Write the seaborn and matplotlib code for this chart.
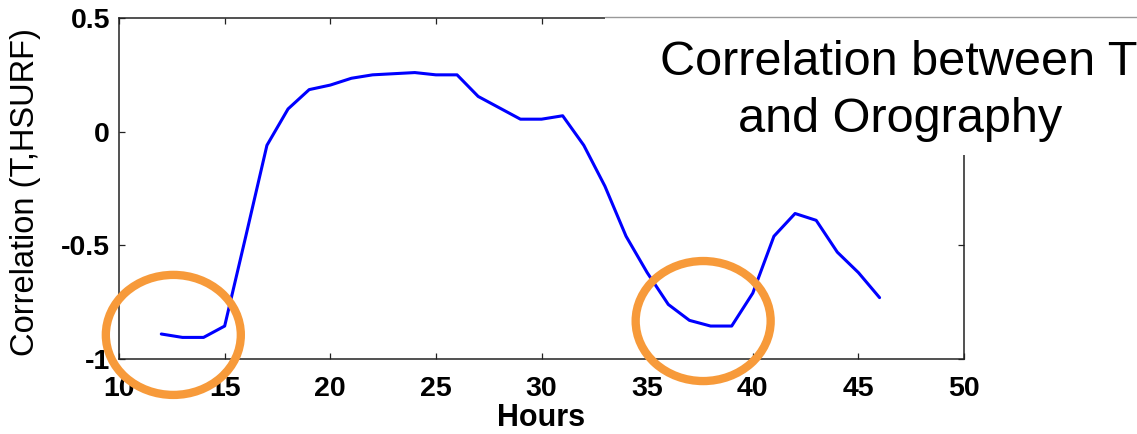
import numpy as np
import pandas as pd
import seaborn as sns
import matplotlib.pyplot as plt
from matplotlib.patches import Ellipse, Rectangle
from matplotlib.lines import Line2D

# values
hours = list(range(12, 47))
corr = [-0.89, -0.905, -0.905, -0.855, -0.46, -0.06, 0.10, 0.185, 0.205, 0.235,
        0.25, 0.255, 0.26, 0.25, 0.25, 0.155, 0.105, 0.055, 0.055, 0.07,
        -0.06, -0.24, -0.46, -0.62, -0.76, -0.83, -0.855, -0.855, -0.71, -0.46,
        -0.36, -0.39, -0.53, -0.62, -0.73]

x_ticks = [10, 15, 20, 25, 30, 35, 40, 45, 50]
y_ticks = [-1, -0.5, 0, 0.5]
y_ticklabels = ["-1", "-0.5", "0", "0.5"]

# highlighted regions (centre hour, centre correlation)
circle_x = [12.57, 37.65]
circle_y = [-0.894, -0.833]

title_lines = ["Correlation between T", "and Orography"]

df = pd.DataFrame({"Hours": hours, "corr": corr})

sns.set_theme(style="ticks")
plt.rcParams['font.family'] = ['Liberation Sans', 'DejaVu Sans']
plt.rcParams['text.color'] = 'black'
plt.rcParams['axes.labelcolor'] = 'black'

fig = plt.figure(figsize=(11.37, 4.34), dpi=100)
ax = fig.add_axes([0.1047, 0.1728, 0.7432, 0.7857])

sns.lineplot(data=df, x="Hours", y="corr", color="#0000ff", linewidth=2.2, ax=ax)

ax.set_xlim(10, 50)
ax.set_ylim(-1, 0.5)
ax.set_xticks(x_ticks)
ax.set_yticks(y_ticks)
ax.set_yticklabels(y_ticklabels)
ax.tick_params(direction="in", top=True, right=True, length=4.5, width=0.9,
               color="#222222", labelsize=20.5, labelcolor="black")
ax.tick_params(axis="x", pad=12)
ax.tick_params(axis="y", pad=6.5)
for lab in ax.get_xticklabels() + ax.get_yticklabels():
    lab.set_fontweight("bold")
for sp in ax.spines.values():
    sp.set_visible(True)
    sp.set_color("#222222")
    sp.set_linewidth(1.1)

ax.set_xlabel("Hours", fontsize=22, fontweight="bold", color="black")
ax.set_ylabel("Correlation (T,HSURF)", fontsize=23.5, color="black")
ax.xaxis.set_label_coords(0.5, -0.13)
ax.yaxis.set_label_coords(-0.092, 0.49)

# orange highlight ellipses
for cx, cy in zip(circle_x, circle_y):
    ax.add_patch(Ellipse((cx, cy), 6.39, 0.528, fill=False, edgecolor="#f79a3a",
                         linewidth=6, clip_on=False, zorder=6))

# white text box covering the top right corner
box = Rectangle((605 / 1137, 1 - 155 / 434), 1 - 605 / 1137, 138 / 434,
                transform=fig.transFigure, facecolor="white", edgecolor="none", zorder=5)
fig.patches.append(box)
fig.lines.append(Line2D([605 / 1137, 1], [1 - 17.3 / 434, 1 - 17.3 / 434],
                        transform=fig.transFigure, color="#999999", linewidth=1.0, zorder=6))

fig.text(899 / 1137, 1 - 75 / 434, title_lines[0], ha="center", va="baseline",
         fontsize=35, color="black", zorder=7)
fig.text(900 / 1137, 1 - 132 / 434, title_lines[1], ha="center", va="baseline",
         fontsize=35, color="black", zorder=7)

fig.savefig("out.png", dpi=100)
